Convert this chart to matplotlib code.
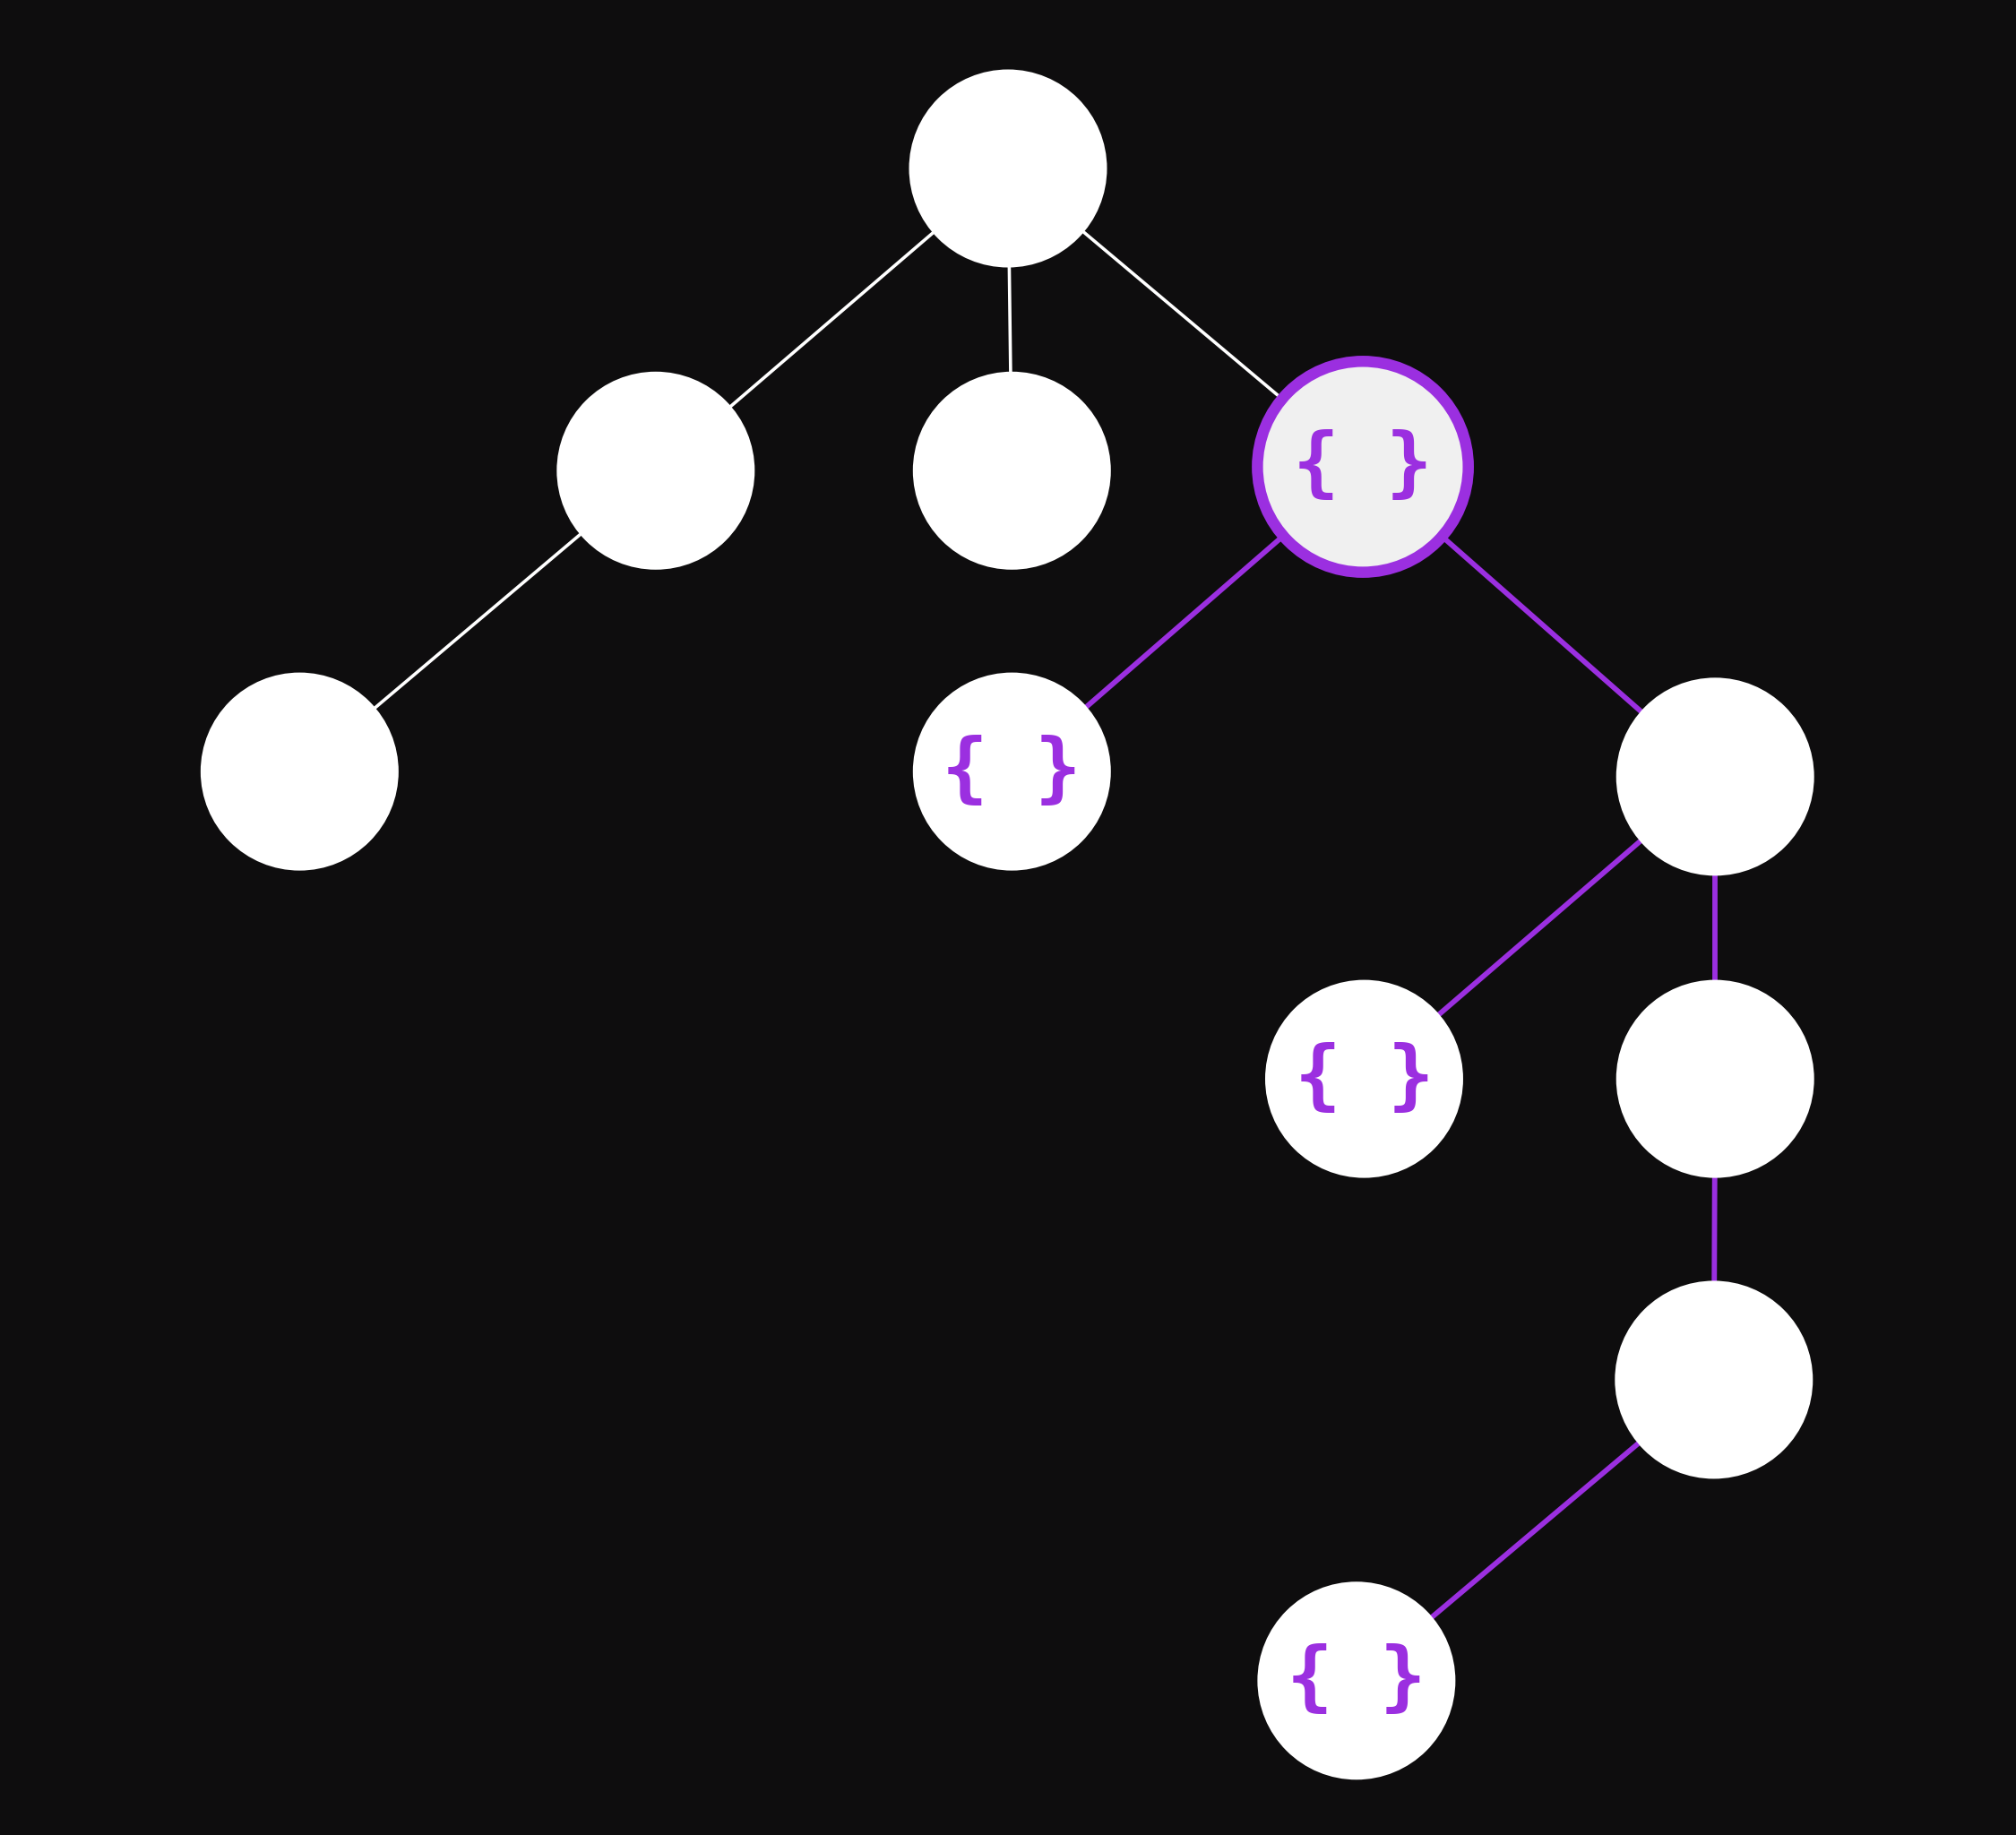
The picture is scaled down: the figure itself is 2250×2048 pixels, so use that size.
import matplotlib.pyplot as plt
from matplotlib.patches import Circle

# node positions in reference pixel space (x, y from top)
node_names = ["root", "a", "b", "c", "d", "e", "f", "g", "h", "i", "j"]
node_x = [784, 510, 787, 1060, 233, 787, 1334, 1061, 1334, 1333, 1055]
node_y = [131, 366, 366, 363, 600, 600, 604, 839, 839, 1073, 1307]
braces = ["c", "e", "g", "j"]
highlighted = ["c"]
edges = [("root", "a"), ("root", "b"), ("root", "c"), ("a", "d"),
         ("c", "e"), ("c", "f"), ("f", "g"), ("f", "h"), ("h", "i"), ("i", "j")]
purple_edges = [("c", "e"), ("c", "f"), ("f", "g"), ("f", "h"), ("h", "i"), ("i", "j")]

bg = "#0e0d0e"
purple = "#9b2fe0"
r = 77

fig = plt.figure(figsize=(22.5, 20.48), dpi=100, facecolor=bg)
ax = fig.add_axes([0, 0, 1, 1])
ax.set_facecolor(bg)
ax.set_xlim(0, 1568)
ax.set_ylim(1427, 0)
ax.axis("off")

pos = {n: (x, y) for n, x, y in zip(node_names, node_x, node_y)}

for s, t in edges:
    (x0, y0), (x1, y1) = pos[s], pos[t]
    if (s, t) in purple_edges:
        ax.plot([x0, x1], [y0, y1], color=purple, lw=4.2, zorder=1, solid_capstyle="butt")
    else:
        ax.plot([x0, x1], [y0, y1], color="white", lw=2.6, zorder=1, solid_capstyle="butt")

for n in node_names:
    x, y = pos[n]
    if n in highlighted:
        ax.add_patch(Circle((x, y), r + 5, facecolor="#f0f0f0", edgecolor=purple, lw=9, zorder=2))
    else:
        ax.add_patch(Circle((x, y), r, facecolor="white", edgecolor="none", zorder=2))
    if n in braces:
        ax.text(x, y, "{ }", color=purple, fontsize=62, fontweight="bold",
                family="DejaVu Sans Mono", ha="center", va="center", zorder=3)

fig.savefig("out.png", dpi=100, facecolor=bg)
